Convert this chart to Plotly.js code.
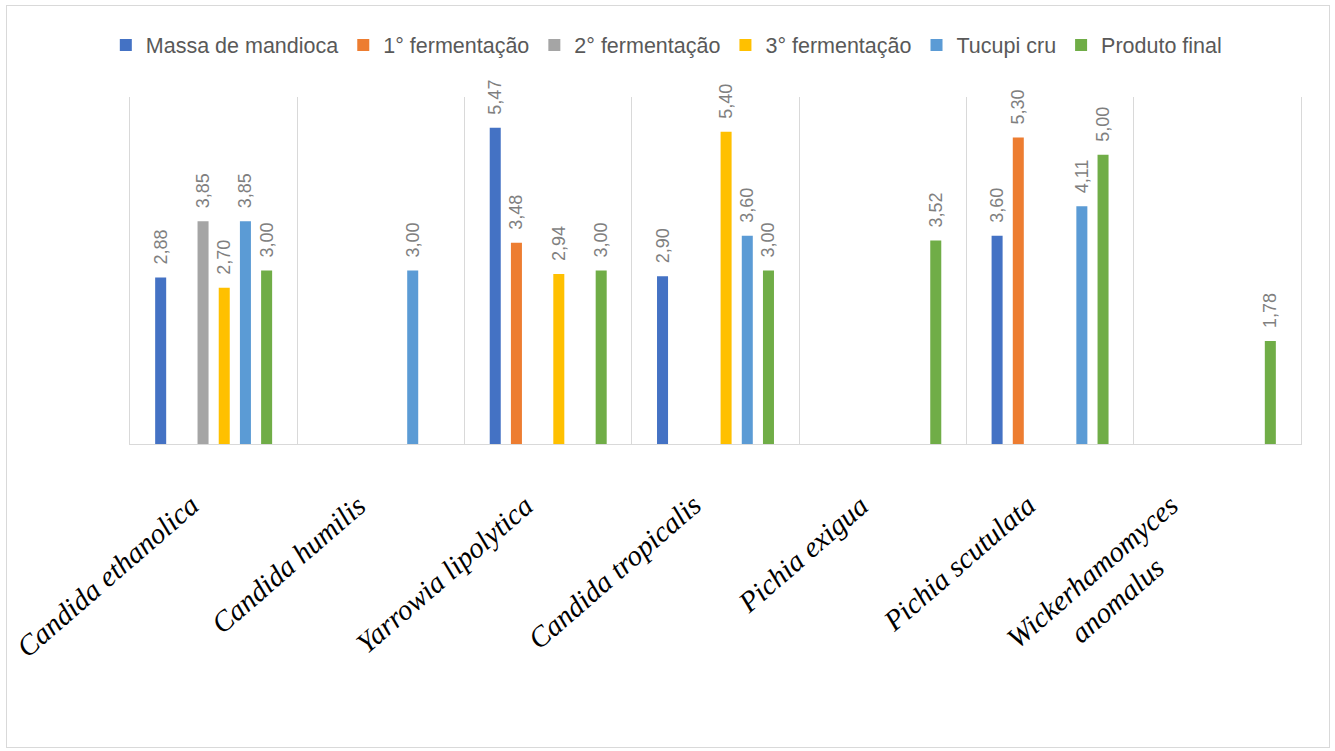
<!DOCTYPE html>
<html>
<head>
<meta charset="utf-8">
<script src="https://cdn.plot.ly/plotly-3.0.1.min.js"></script>
<style>
  html, body { margin: 0; padding: 0; background: #ffffff; }
  #wrap { position: relative; width: 1335px; height: 751px; }
  #chart { position: absolute; left: 0; top: 0; width: 1335px; height: 751px; }
  #frame { position: absolute; left: 6px; top: 5px; width: 1322px; height: 741px; border: 1px solid #d9d9d9; pointer-events: none; }
</style>
</head>
<body>
<div id="wrap">
  <div id="chart"></div>
  <div id="frame"></div>
</div>
<script>
const categories = [
  "Candida ethanolica",
  "Candida humilis",
  "Yarrowia lipolytica",
  "Candida tropicalis",
  "Pichia exigua",
  "Pichia scutulata",
  "Wickerhamomyces anomalus"
];
const tickLabels = [
  "Candida ethanolica",
  "Candida humilis",
  "Yarrowia lipolytica",
  "Candida tropicalis",
  "Pichia exigua",
  "Pichia scutulata",
  "Wickerhamomyces<br>anomalus"
];
const seriesNames = ["Massa de mandioca", "1° fermentação", "2° fermentação", "3° fermentação", "Tucupi cru", "Produto final"];
const seriesColors = ["#4472C4", "#ED7D31", "#A5A5A5", "#FFC000", "#5B9BD5", "#70AD47"];

const massaMandioca = [2.88, null, 5.47, 2.90, null, 3.60, null];
const fermentacao1  = [null, null, 3.48, null, null, 5.30, null];
const fermentacao2  = [3.85, null, null, null, null, null, null];
const fermentacao3  = [2.70, null, 2.94, 5.40, null, null, null];
const tucupiCru     = [3.85, 3.00, null, 3.60, null, 4.11, null];
const produtoFinal  = [3.00, null, 3.00, 3.00, 3.52, 5.00, 1.78];

const seriesValues = [massaMandioca, fermentacao1, fermentacao2, fermentacao3, tucupiCru, produtoFinal];

const traces = seriesValues.map((vals, i) => ({
  type: "bar",
  name: seriesNames[i],
  x: categories,
  y: vals,
  marker: { color: seriesColors[i] },
  texttemplate: "\u00a0\u00a0%{y:.2f}",
  textposition: "outside",
  textangle: -90,
  constraintext: "none",
  cliponaxis: false,
  textfont: { family: "Liberation Sans, Arial, sans-serif", size: 18, color: "#7f7f7f" },
  hoverinfo: "skip"
}));

// category labels drawn at each category index of the x axis
const labelAnnotations = categories.map((c, i) => ({
  x: i,
  xref: "x",
  y: 0,
  yref: "y",
  text: tickLabels[i],
  showarrow: false,
  textangle: -41,
  xanchor: "right",
  yanchor: "top",
  align: "center",
  xshift: -6,
  yshift: -42,
  font: { family: "Liberation Serif, Times New Roman, serif", size: 29, color: "#000000", style: "italic" }
}));

const layout = {
  width: 1335,
  height: 751,
  paper_bgcolor: "#ffffff",
  plot_bgcolor: "#ffffff",
  margin: { l: 130, r: 34, t: 97, b: 307, autoexpand: false },
  separators: ",.",
  barmode: "group",
  bargap: 0.24,
  bargroupgap: 0.48,
  showlegend: true,
  legend: {
    orientation: "h",
    x: 0.458,
    xanchor: "center",
    y: 1.15,
    yanchor: "middle",
    font: { family: "Liberation Sans, Arial, sans-serif", size: 21.5, color: "#595959" },
    traceorder: "normal"
  },
  annotations: labelAnnotations,
  xaxis: {
    type: "category",
    categoryorder: "array",
    categoryarray: categories,
    range: [-0.5, categories.length - 0.5],
    tickson: "boundaries",
    ticks: "",
    showticklabels: false,
    showgrid: true,
    gridcolor: "#d9d9d9",
    gridwidth: 1,
    showline: true,
    linecolor: "#d9d9d9",
    linewidth: 1,
    automargin: false,
    fixedrange: true
  },
  yaxis: {
    range: [0, 6],
    showticklabels: false,
    ticks: "",
    showgrid: false,
    zeroline: false,
    showline: true,
    mirror: true,
    linecolor: "#d9d9d9",
    linewidth: 1,
    automargin: false,
    fixedrange: true
  }
};

Plotly.newPlot("chart", traces, layout, { displayModeBar: false, staticPlot: true });
</script>
</body>
</html>
